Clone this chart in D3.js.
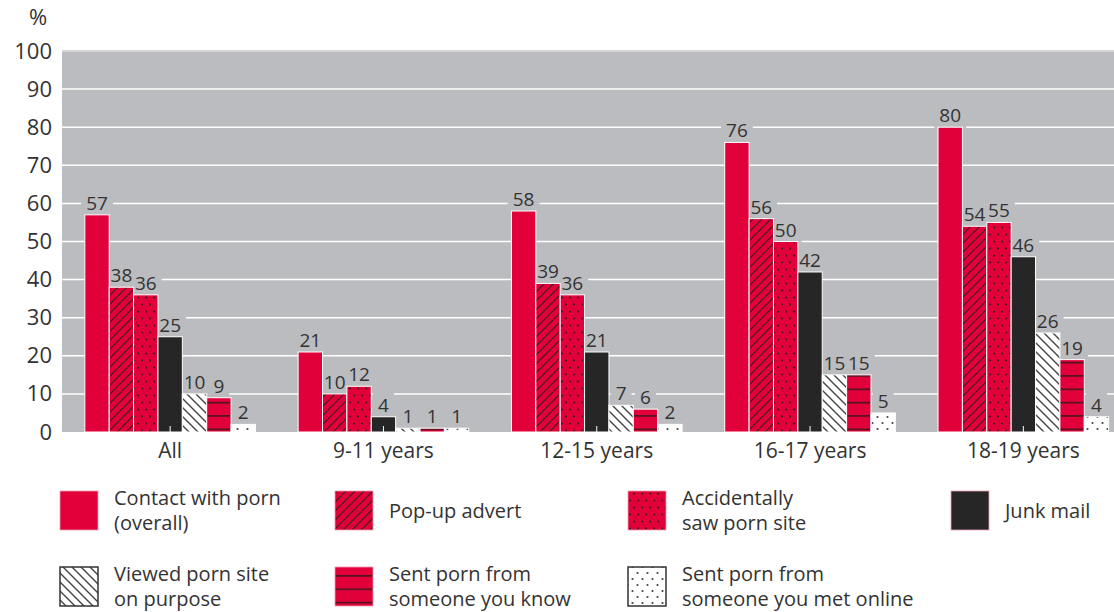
<!DOCTYPE html>
<html>
<head>
<meta charset="utf-8">
<script src="https://cdn.jsdelivr.net/npm/d3@7"></script>
<style>
body { margin: 0; background: #fff; }
svg text { font-family: "Open Sans", sans-serif; fill: #333; }
</style>
</head>
<body>
<svg width="1114" height="612"></svg>
<script>
var groups = ["All", "9-11 years", "12-15 years", "16-17 years", "18-19 years"];
var seriesKeys = ["overall", "popup", "accident", "junk", "purpose", "known", "online"];

var contactOverall = [57, 21, 58, 76, 80];
var popUpAdvert = [38, 10, 39, 56, 54];
var accidentallySaw = [36, 12, 36, 50, 55];
var junkMail = [25, 4, 21, 42, 46];
var viewedOnPurpose = [10, 1, 7, 15, 26];
var sentFromKnown = [9, 1, 6, 15, 19];
var sentFromOnline = [2, 1, 2, 5, 4];

var yTicks = [0, 10, 20, 30, 40, 50, 60, 70, 80, 90, 100];

var legendLines = [
  ["Contact with porn", "(overall)"],
  ["Pop-up advert"],
  ["Accidentally", "saw porn site"],
  ["Junk mail"],
  ["Viewed porn site", "on purpose"],
  ["Sent porn from", "someone you know"],
  ["Sent porn from", "someone you met online"]
];

var allValues = [contactOverall, popUpAdvert, accidentallySaw, junkMail,
                 viewedOnPurpose, sentFromKnown, sentFromOnline];

var red = "#e2003a";
var gray = "#bbbcbf";

var svg = d3.select("svg");
var defs = svg.append("defs");

// patterns
function pattern(id, w, h, bg) {
  var p = defs.append("pattern")
    .attr("id", id)
    .attr("patternUnits", "userSpaceOnUse")
    .attr("width", w).attr("height", h);
  p.append("rect").attr("width", w).attr("height", h).attr("fill", bg);
  return p;
}

var pUp = pattern("popup", 9, 9, red);
pUp.append("path")
  .attr("d", "M-2,2 L2,-2 M0,9 L9,0 M7,11 L11,7")
  .attr("stroke", "#3a1a20").attr("stroke-width", 1.1);

var pAcc = pattern("accident", 8, 14, red);
pAcc.append("circle").attr("cx", 2).attr("cy", 3.5).attr("r", 1.1).attr("fill", "#3a1a20");
pAcc.append("circle").attr("cx", 6).attr("cy", 10.5).attr("r", 1.1).attr("fill", "#3a1a20");

var pPur = pattern("purpose", 9, 9, "#fff");
pPur.append("path")
  .attr("d", "M-2,7 L2,11 M0,0 L9,9 M7,-2 L11,2")
  .attr("stroke", "#444").attr("stroke-width", 1.4);

var pKnown = pattern("known", 10, 13.33, red);
pKnown.append("line")
  .attr("x1", 0).attr("x2", 10).attr("y1", 2.7).attr("y2", 2.7)
  .attr("stroke", "#4a1520").attr("stroke-width", 1.6);

var pOn = pattern("online", 10, 12, "#fff");
pOn.append("circle").attr("cx", 2.5).attr("cy", 3).attr("r", 1.1).attr("fill", "#444");
pOn.append("circle").attr("cx", 7.5).attr("cy", 9).attr("r", 1.1).attr("fill", "#444");

var fills = {
  overall: red,
  popup: "url(#popup)",
  accident: "url(#accident)",
  junk: "#262626",
  purpose: "url(#purpose)",
  known: "url(#known)",
  online: "url(#online)"
};

var x0 = d3.scaleBand()
  .domain(groups)
  .range([63.5, 1130])
  .paddingInner(0.2)
  .paddingOuter(0.1);

var x1 = d3.scaleBand()
  .domain(seriesKeys)
  .range([0, x0.bandwidth()]);

var y = d3.scaleLinear()
  .domain([0, 100])
  .range([432, 51]);

// plot background
svg.append("rect")
  .attr("x", 62).attr("y", y(100) - 1)
  .attr("width", 1114 - 62).attr("height", y(0) - y(100) + 1)
  .attr("fill", gray);

svg.append("g").selectAll("line")
  .data(yTicks.filter(function(t) { return t > 0; }))
  .enter().append("line")
  .attr("x1", 62).attr("x2", 1114)
  .attr("y1", function(d) { return y(d); })
  .attr("y2", function(d) { return y(d); })
  .attr("stroke", function(d) { return d == 100 ? "#dcdcdc" : "#fff"; })
  .attr("stroke-width", 1.5);

// axes
var yAxis = svg.append("g")
  .attr("transform", "translate(62,0)")
  .call(d3.axisLeft(y).tickValues(yTicks).tickSize(0).tickPadding(10));
yAxis.select(".domain").remove();
yAxis.selectAll("text").style("font-size", "22px").attr("fill", "#333");

svg.append("text")
  .attr("x", 38).attr("y", 25)
  .attr("text-anchor", "middle")
  .style("font-size", "22px")
  .text("%");

var xAxis = svg.append("g")
  .attr("transform", "translate(0,432)")
  .call(d3.axisBottom(x0).tickSize(0).tickPadding(11));
xAxis.select(".domain").remove();
xAxis.selectAll("text").style("font-size", "21px").attr("fill", "#333");

// bars
var rows = [];
seriesKeys.forEach(function(s, si) {
  groups.forEach(function(g, gi) {
    rows.push({ s: s, g: g, v: allValues[si][gi] });
  });
});

var labelBg = svg.append("g");
var barG = svg.append("g");
var labelG = svg.append("g");

barG.selectAll("rect")
  .data(rows)
  .enter().append("rect")
  .attr("x", function(d) { return x0(d.g) + x1(d.s); })
  .attr("y", function(d) { return y(d.v); })
  .attr("width", x1.bandwidth())
  .attr("height", function(d) { return y(0) - y(d.v); })
  .attr("fill", function(d) { return fills[d.s]; })
  .attr("stroke", "#fff")
  .attr("stroke-width", 1);

barG.selectAll("line")
  .data(rows.filter(function(d) { return d.s == "junk"; }))
  .enter().append("line")
  .attr("x1", function(d) { return x0(d.g) + x1(d.s) + x1.bandwidth() / 2; })
  .attr("x2", function(d) { return x0(d.g) + x1(d.s) + x1.bandwidth() / 2; })
  .attr("y1", y(0)).attr("y2", y(0) - 6)
  .attr("stroke", "#fff").attr("stroke-width", 1);

var labels = labelG.selectAll("text")
  .data(rows)
  .enter().append("text")
  .attr("x", function(d) { return x0(d.g) + x1(d.s) + x1.bandwidth() / 2; })
  .attr("y", function(d) { return y(d.v) - 5; })
  .attr("text-anchor", "middle")
  .style("font-size", "19px")
  .text(function(d) { return d.v; });

labels.each(function() {
  var b = this.getBBox();
  labelBg.append("rect")
    .attr("x", b.x - 5).attr("y", b.y)
    .attr("width", b.width + 10).attr("height", b.height)
    .attr("fill", gray);
});

// legend
var legX = [60, 335, 628, 951];
var legY = [491, 567];
var legPos = [[0, 0], [1, 0], [2, 0], [3, 0], [0, 1], [1, 1], [2, 1]];

var leg = svg.append("g");
seriesKeys.forEach(function(s, i) {
  var px = legX[legPos[i][0]], py = legY[legPos[i][1]];
  var white = (s == "purpose" || s == "online");
  leg.append("rect")
    .attr("x", px).attr("y", py)
    .attr("width", 38).attr("height", 39)
    .attr("fill", fills[s])
    .attr("stroke", white ? "#333" : "#f0a0b0")
    .attr("stroke-width", white ? 1.5 : 0.8);
  var lines = legendLines[i];
  var t = leg.append("text")
    .attr("x", px + 54)
    .style("font-size", "20px");
  lines.forEach(function(ln, li) {
    var base = lines.length == 1 ? py + 27 : py + 14 + li * 25;
    t.append("tspan").attr("x", px + 54).attr("y", base).text(ln);
  });
});
</script>
</body>
</html>
